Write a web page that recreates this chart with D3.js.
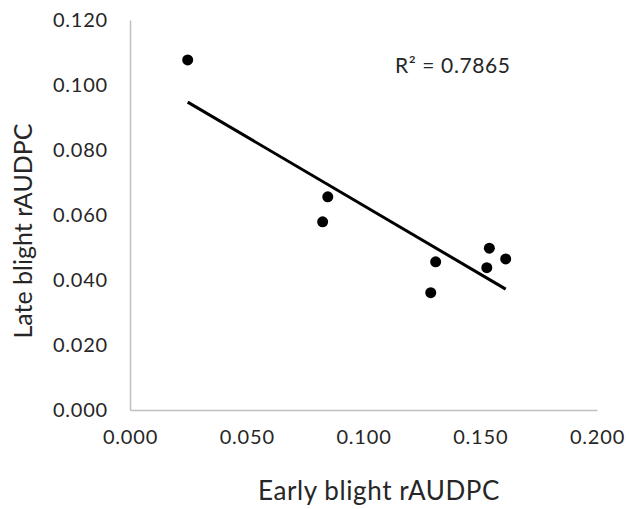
<!DOCTYPE html>
<html>
<head>
<meta charset="utf-8">
<script src="https://cdn.jsdelivr.net/npm/d3@7"></script>
<style>
  body { margin: 0; background: #fff; }
  text { font-family: Lato, "Noto Sans", sans-serif; fill: #262626; }
</style>
</head>
<body>
<svg id="canvas"></svg>
<script>
let width = 629;
let height = 509;
let margin = { top: 20, right: 32, bottom: 99, left: 130 };

// Early blight rAUDPC vs Late blight rAUDPC
let earlyBlight = [0.0247, 0.0847, 0.0825, 0.1309, 0.1288, 0.1539, 0.1528, 0.1609];
let lateBlight = [0.1077, 0.0656, 0.0579, 0.0456, 0.0361, 0.0498, 0.0438, 0.0465];
let xTicks = [0, 0.05, 0.1, 0.15, 0.2];
let yTicks = [0, 0.02, 0.04, 0.06, 0.08, 0.1, 0.12];
let rSquaredLabel = 'R² = 0.7865';

let data = earlyBlight.map((x, i) => ({ x: x, y: lateBlight[i] }));

let canvas = d3.select('#canvas').attr('width', width).attr('height', height);

let xScale = d3.scaleLinear().domain([0, 0.2]).range([margin.left, width - margin.right]);
let yScale = d3.scaleLinear().domain([0, 0.12]).range([height - margin.bottom, margin.top]);

let drawAxes = () => {
    let xAxis = d3.axisBottom(xScale).tickValues(xTicks).tickFormat(d3.format('.3f')).tickSize(0).tickPadding(20);
    let yAxis = d3.axisLeft(yScale).tickValues(yTicks).tickFormat(d3.format('.3f')).tickSize(0).tickPadding(22);

    let gx = canvas.append('g')
        .attr('transform', `translate(0, ${height - margin.bottom})`)
        .call(xAxis);
    let gy = canvas.append('g')
        .attr('transform', `translate(${margin.left}, 0)`)
        .call(yAxis);

    [gx, gy].forEach((g) => {
        g.select('.domain').attr('stroke', '#bfbfbf').attr('stroke-width', 1.5);
        g.selectAll('text').attr('font-size', 20).attr('letter-spacing', 0.8)
            .style('fill', '#262626')
            .attr('font-family', 'Lato, "Noto Sans", sans-serif');
    });

    canvas.append('text')
        .attr('x', 379)
        .attr('y', 500)
        .attr('text-anchor', 'middle')
        .attr('font-size', 26)
        .attr('letter-spacing', 0.6)
        .text('Early blight rAUDPC');

    canvas.append('text')
        .attr('transform', 'translate(32, 231) rotate(-90)')
        .attr('text-anchor', 'middle')
        .attr('font-size', 25)
        .text('Late blight rAUDPC');
};

let drawTrend = () => {
    let mx = d3.mean(data, (d) => d.x);
    let my = d3.mean(data, (d) => d.y);
    let sxy = d3.sum(data, (d) => (d.x - mx) * (d.y - my));
    let sxx = d3.sum(data, (d) => (d.x - mx) * (d.x - mx));
    let slope = sxy / sxx;
    let intercept = my - slope * mx;
    let x0 = d3.min(data, (d) => d.x);
    let x1 = d3.max(data, (d) => d.x);

    canvas.append('line')
        .attr('x1', xScale(x0))
        .attr('y1', yScale(intercept + slope * x0))
        .attr('x2', xScale(x1))
        .attr('y2', yScale(intercept + slope * x1))
        .attr('stroke', '#000')
        .attr('stroke-width', 3);

    canvas.append('text')
        .attr('x', 395)
        .attr('y', 73)
        .attr('font-size', 21)
        .attr('letter-spacing', 0.6)
        .text(rSquaredLabel);
};

let drawPoints = () => {
    canvas.selectAll('circle')
        .data(data)
        .enter()
        .append('circle')
        .attr('cx', (d) => xScale(d.x))
        .attr('cy', (d) => yScale(d.y))
        .attr('r', 5.5)
        .attr('fill', '#000');
};

drawAxes();
drawTrend();
drawPoints();
</script>
</body>
</html>
